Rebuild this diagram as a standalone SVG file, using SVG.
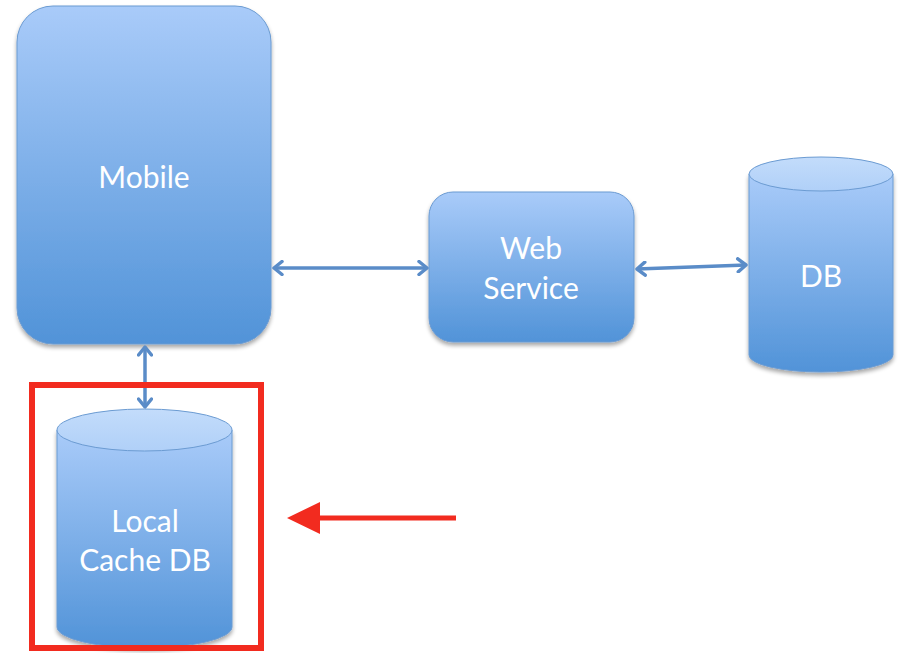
<svg xmlns="http://www.w3.org/2000/svg" width="901" height="653" viewBox="0 0 901 653">
<defs>
<linearGradient id="g" x1="0" y1="0" x2="0" y2="1">
<stop offset="0" stop-color="#a9cbf9"/>
<stop offset="1" stop-color="#5193d8"/>
</linearGradient>
<linearGradient id="gt" x1="0" y1="0" x2="0" y2="1">
<stop offset="0" stop-color="#c3dcfb"/>
<stop offset="1" stop-color="#b0d0f8"/>
</linearGradient>
<filter id="sh" x="-10%" y="-10%" width="120%" height="120%">
<feGaussianBlur in="SourceAlpha" stdDeviation="2"/>
<feOffset dx="0" dy="3" result="b"/>
<feComponentTransfer><feFuncA type="linear" slope="0.35"/></feComponentTransfer>
<feMerge><feMergeNode/><feMergeNode in="SourceGraphic"/></feMerge>
</filter>
<marker id="ah" viewBox="0 0 14 16" refX="12" refY="8" markerWidth="14" markerHeight="16" markerUnits="userSpaceOnUse" orient="auto-start-reverse">
<path d="M4,1.5 L12,8 L4,14.5" fill="none" stroke="#5a8cc8" stroke-width="3.5" stroke-linecap="round" stroke-linejoin="round"/>
</marker>
</defs>
<style>
.shape{fill:url(#g);stroke:#6b9bd2;stroke-width:1;filter:url(#sh)}
.top{fill:url(#gt);stroke:#6b9bd2;stroke-width:1}
.lbl{font-family:Lato,"Open Sans","Liberation Sans",sans-serif;font-size:30px;fill:#ffffff;text-anchor:middle}
.con{stroke:#5a8cc8;stroke-width:3.5;fill:none;marker-start:url(#ah);marker-end:url(#ah)}
</style>
<g id="mobile">
<rect class="shape" x="17" y="6" width="254" height="338" rx="36" ry="36"/>
<text class="lbl" x="144" y="188">Mobile</text>
</g>
<g id="web-service">
<rect class="shape" x="429" y="192" width="205" height="150" rx="24" ry="24"/>
<text class="lbl" x="531" y="259">Web</text>
<text class="lbl" x="531" y="299">Service</text>
</g>
<g id="db">
<path class="shape" d="M749,174 L749,355 A72,17 0 0 0 893,355 L893,174 Z"/>
<ellipse class="top" cx="821" cy="174" rx="72" ry="17"/>
<text class="lbl" x="821" y="287">DB</text>
</g>
<g id="local-cache-db">
<path class="shape" d="M57,430 L57,627 A87.5,21 0 0 0 232,627 L232,430 Z"/>
<ellipse class="top" cx="144.5" cy="430" rx="87.5" ry="21"/>
<text class="lbl" x="145" y="532">Local</text>
<text class="lbl" x="145" y="571">Cache DB</text>
</g>
<g id="connectors">
<line class="con" x1="274" y1="268" x2="427" y2="268"/>
<line class="con" x1="637" y1="269" x2="746" y2="265"/>
<line class="con" x1="145" y1="347" x2="145" y2="407"/>
</g>
<g id="highlight">
<rect x="32" y="385" width="229" height="263" fill="none" stroke="#f22b1f" stroke-width="6"/>
<line x1="456" y1="518" x2="318" y2="518" stroke="#f22b1f" stroke-width="5"/>
<polygon points="287,518 320,502 320,534" fill="#f22b1f"/>
</g>
</svg>
